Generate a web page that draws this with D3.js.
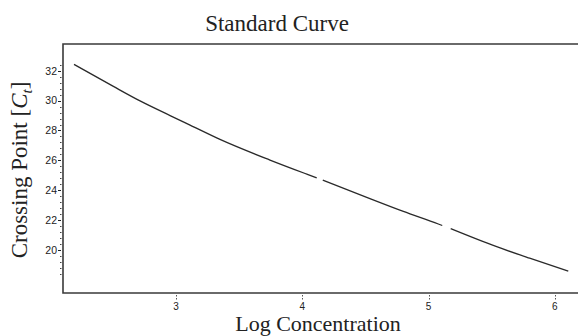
<!DOCTYPE html>
<html><head><meta charset="utf-8">
<script src="https://cdn.jsdelivr.net/npm/d3@7"></script>
<style>body{margin:0;background:#fff}svg{display:block}</style>
</head><body>
<svg id="c" width="578" height="336"></svg>
<script>
// Data (null = gap in the curve)
const logConc = [2.192, 2.504, 2.715, 2.953, 3.111, 3.348, 3.744, 4.035, 4.114, null, 4.162, 4.510, 4.800, 5.077, 5.108, null, 5.175, 5.539, 5.800, 6.106];
const crossing = [32.43, 30.95, 29.98, 29.00, 28.36, 27.40, 26.02, 25.08, 24.83, null, 24.67, 23.52, 22.58, 21.74, 21.64, null, 21.43, 20.22, 19.45, 18.59];
const xTicks = [3, 4, 5, 6];
const yTicks = [20, 22, 24, 26, 28, 30, 32];
const title = "Standard Curve";
const xLabel = "Log Concentration";

const svg = d3.select("#c");
const L = 63, R = 578, T = 44, B = 293;
const x = d3.scaleLinear().domain([2.105, 6.183]).range([L, R]);
const y = d3.scaleLinear().domain([17.12, 33.79]).range([B, T]);

// frame (top, left, bottom)
svg.append("path")
  .attr("d", `M${R+2},${T}H${L}V${B}H${R+2}`)
  .attr("fill", "none").attr("stroke", "#3a3a3a").attr("stroke-width", 1.6);

// y axis ticks and labels
const yMinor = d3.range(18.4, 32.41, 0.4).filter(v => !yTicks.some(t => Math.abs(t - v) < 0.05));
svg.append("g").selectAll("line").data(yMinor).join("line")
  .attr("x1", 60).attr("x2", 61.5)
  .attr("y1", d => Math.round(y(d)) + 0.5).attr("y2", d => Math.round(y(d)) + 0.5)
  .attr("stroke", "#444").attr("stroke-width", 1);
const yg = svg.append("g");
yg.selectAll("line").data(yTicks).join("line")
  .attr("x1", 58).attr("x2", 61)
  .attr("y1", d => Math.round(y(d)) + 0.5).attr("y2", d => Math.round(y(d)) + 0.5)
  .attr("stroke", "#222").attr("stroke-width", 1);
yg.selectAll("text").data(yTicks).join("text")
  .attr("x", 57).attr("y", d => y(d)).attr("dy", "0.36em")
  .attr("text-anchor", "end")
  .attr("font-family", "Liberation Sans, Arial, sans-serif")
  .attr("font-size", 10.5).attr("fill", "#222")
  .text(d => d);

// x axis ticks and labels
const xg = svg.append("g");
xg.selectAll("line").data(xTicks).join("line")
  .attr("x1", d => Math.round(x(d)) + 0.5).attr("x2", d => Math.round(x(d)) + 0.5)
  .attr("y1", 295).attr("y2", 299.5)
  .attr("stroke", "#555").attr("stroke-width", 1).attr("stroke-dasharray", "1.5,1.5");
xg.selectAll("text").data(xTicks).join("text")
  .attr("x", d => x(d)).attr("y", 310)
  .attr("text-anchor", "middle")
  .attr("font-family", "Liberation Sans, Arial, sans-serif")
  .attr("font-size", 10).attr("fill", "#222")
  .text(d => d);

// curve
const pts = logConc.map((v, i) => [v, crossing[i]]);
const line = d3.line().defined(d => d[0] != null && d[1] != null)
  .curve(d3.curveMonotoneX)
  .x(d => x(d[0])).y(d => y(d[1]));
svg.append("path").attr("d", line(pts))
  .attr("fill", "none").attr("stroke", "#2a2a2a").attr("stroke-width", 1.3);

// titles
const serif = "Liberation Serif, Times New Roman, serif";
svg.append("text").attr("x", 277).attr("y", 31).attr("text-anchor", "middle")
  .attr("font-family", serif).attr("font-size", 23).attr("fill", "#222").text(title);
svg.append("text").attr("x", 318).attr("y", 331).attr("text-anchor", "middle")
  .attr("font-family", serif).attr("font-size", 22).attr("fill", "#222").text(xLabel);
const yl = svg.append("text")
  .attr("transform", "translate(27,170) rotate(-90)")
  .attr("text-anchor", "middle")
  .attr("font-family", serif).attr("font-size", 23).attr("fill", "#222");
yl.append("tspan").text("Crossing Point [");
yl.append("tspan").attr("font-style", "italic").text("C");
yl.append("tspan").attr("font-style", "italic").attr("font-size", 15).attr("dy", 5).text("t");
yl.append("tspan").attr("dy", -5).text("]");
</script>
</body></html>
